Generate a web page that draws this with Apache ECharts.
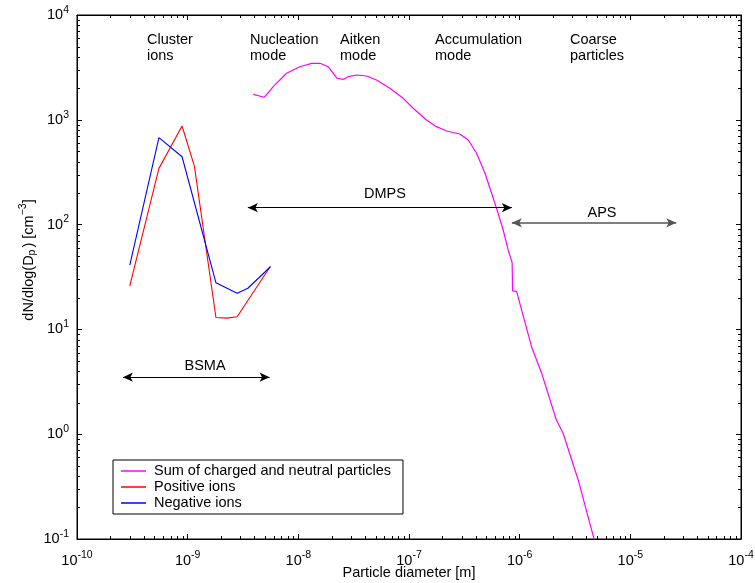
<!DOCTYPE html>
<html><head><meta charset="utf-8">
<script src="https://cdn.jsdelivr.net/npm/echarts@6/dist/echarts.min.js"></script>
<style>html,body{margin:0;padding:0;background:#fff}#c{width:755px;height:583px}</style>
</head><body><div id="c"></div>
<script>
// ---- data ----
const sumDiameter = [3.92e-9, 4.92e-9, 5.93e-9, 7.83e-9, 1.03e-8, 1.32e-8, 1.57e-8, 1.86e-8, 2.07e-8, 2.24e-8,
  2.55e-8, 2.83e-8, 3.37e-8, 4.14e-8, 5.09e-8, 6.71e-8, 8.87e-8, 1.09e-7, 1.44e-7, 1.77e-7,
  2.19e-7, 2.88e-7, 3.43e-7, 4.08e-7, 4.86e-7, 5.58e-7, 6.18e-7, 7.10e-7, 7.87e-7, 8.55e-7,
  8.63e-7, 9.38e-7, 1.28e-6, 1.58e-6, 2.15e-6, 2.47e-6, 3.38e-6, 4.71e-6];
const sumConc = [1751, 1640, 2070, 2780, 3210, 3460, 3460, 3210, 2780, 2490,
  2435, 2580, 2675, 2617, 2397, 1998, 1603, 1288, 995, 860,
  782, 732, 641, 479, 309, 199, 143, 88.8, 57.3, 43.3,
  23.3, 23.1, 6.84, 3.81, 1.36, 1.02, 0.366, 0.0993];
const posDiameter = [3.0e-10, 5.5e-10, 8.9e-10, 1.15e-9, 1.8e-9, 2.25e-9, 2.8e-9, 5.6e-9];
const posConc = [26, 344, 873, 362, 13.0, 12.8, 13.2, 40];
const negDiameter = [3.0e-10, 5.5e-10, 8.9e-10, 1.8e-9, 2.8e-9, 3.5e-9, 5.6e-9];
const negConc = [41, 675, 444, 27.9, 22.1, 24.7, 39.6];
const seriesNames = ['Sum of charged and neutral particles', 'Positive ions', 'Negative ions'];
const modeLabels = [['Cluster', 'ions'], ['Nucleation', 'mode'], ['Aitken', 'mode'], ['Accumulation', 'mode'], ['Coarse', 'particles']];
const instrumentLabels = ['BSMA', 'DMPS', 'APS'];

const FONT = 'Liberation Sans, Arial, Helvetica, sans-serif';
const FS = 14.5;
const pairs = (xs, ys) => xs.map((x, i) => [x, ys[i]]);
const expFmt = v => '{b|10}{e|' + Math.round(Math.log10(v)) + '}';
const richLbl = {
  b: { fontSize: FS, fontFamily: FONT, color: '#000' },
  e: { fontSize: 10.5, fontFamily: FONT, color: '#000', padding: [0, 0, 10, 0] }
};

const chart = echarts.init(document.getElementById('c'), null, { renderer: 'canvas' });

const xBase = {
  type: 'log', logBase: 10, min: 1e-10, max: 1e-4, splitNumber: 6,
  axisLine: { show: true, lineStyle: { color: '#000', width: 1 } },
  axisTick: { show: true, inside: true, length: 5, lineStyle: { color: '#000', width: 1 } },
  splitLine: { show: false }, minorTick: { show: false }
};
const yBase = {
  type: 'log', logBase: 10, min: 0.1, max: 1e4, splitNumber: 5,
  axisLine: { show: true, lineStyle: { color: '#000', width: 1 } },
  axisTick: { show: true, inside: true, length: 5, lineStyle: { color: '#000', width: 1 } },
  splitLine: { show: false }, minorTick: { show: false }
};

const option = {
  animation: false,
  backgroundColor: '#fff',
  grid: { left: 77, right: 14, top: 15, bottom: 44, containLabel: false, outerBoundsMode: 'none',
    show: true, borderColor: '#000', borderWidth: 1, backgroundColor: 'transparent' },
  xAxis: [
    Object.assign({}, xBase, {
      position: 'bottom',
      name: 'Particle diameter [m]', nameLocation: 'middle', nameGap: 26, nameMoveOverlap: false,
      nameTextStyle: { fontSize: FS, fontFamily: FONT, color: '#000' },
      axisLabel: { show: true, margin: 11, formatter: expFmt, rich: richLbl, showMinLabel: true, showMaxLabel: true }
    }),
    Object.assign({}, xBase, { position: 'top', axisLabel: { show: false } })
  ],
  yAxis: [
    Object.assign({}, yBase, {
      position: 'left',
      name: '{t|dN/dlog(D}{s|p}{t|) [cm}{e|−3}{t|]}', nameLocation: 'middle', nameGap: 38, nameMoveOverlap: false,
      nameTextStyle: {
        fontSize: FS, fontFamily: FONT, color: '#000', padding: [0, 0, 0, 34],
        rich: {
          t: { fontSize: FS, fontFamily: FONT, color: '#000' },
          s: { fontSize: 10.5, fontFamily: FONT, color: '#000', padding: [8, 2, 0, 0] },
          e: { fontSize: 10.5, fontFamily: FONT, color: '#000', padding: [0, 0, 10, 0] }
        }
      },
      axisLabel: { show: true, margin: 8, formatter: expFmt, rich: richLbl, showMinLabel: true, showMaxLabel: true }
    }),
    Object.assign({}, yBase, { position: 'right', axisLabel: { show: false } })
  ],
  legend: {
    orient: 'vertical', left: 113, top: 460,
    padding: [3, 12, 3, 8], itemGap: 0, itemWidth: 25, itemHeight: 1.5, icon: 'rect',
    borderColor: '#000', borderWidth: 1, backgroundColor: '#fff',
    textStyle: { fontSize: FS, fontFamily: FONT, color: '#000', lineHeight: 16, padding: [0, 0, 0, 3] },
    data: seriesNames
  },
  series: [
    {
      name: seriesNames[0], type: 'line', data: pairs(sumDiameter, sumConc),
      xAxisIndex: 0, yAxisIndex: 0, symbol: 'none', showSymbol: false,
      lineStyle: { color: '#ff00ff', width: 1.2 }, itemStyle: { color: '#ff00ff' },
      clip: true, z: 3,
      markLine: {
        silent: true, symbol: ['arrow', 'arrow'], symbolSize: [7, 10],
        label: { show: false },
        lineStyle: { color: '#000', width: 1.2, type: 'solid' },
        data: [
          [{ coord: [2.6e-10, 3.5] }, { coord: [5.5e-9, 3.5] }],
          [{ coord: [3.5e-9, 145] }, { coord: [8.5e-7, 145] }],
          [{ coord: [8.5e-7, 104], lineStyle: { color: '#555', width: 1.5 } }, { coord: [2.6e-5, 104], lineStyle: { color: '#555', width: 1.5 } }]
        ]
      }
    },
    {
      name: seriesNames[1], type: 'line', data: pairs(posDiameter, posConc),
      symbol: 'none', showSymbol: false,
      lineStyle: { color: '#ff0000', width: 1.1 }, itemStyle: { color: '#ff0000' }, z: 4
    },
    {
      name: seriesNames[2], type: 'line', data: pairs(negDiameter, negConc),
      symbol: 'none', showSymbol: false,
      lineStyle: { color: '#0000ff', width: 1.1 }, itemStyle: { color: '#0000ff' }, z: 5
    }
  ]
};
chart.setOption(option);

// ---- minor ticks (log 2..9) and text annotations derived from the axis scales ----
function px(axis, v) { return chart.convertToPixel(axis, v); }
const g = [];
const xL = px({ xAxisIndex: 0 }, 1e-10), xR = px({ xAxisIndex: 0 }, 1e-4);
const yB = px({ yAxisIndex: 0 }, 0.1), yT = px({ yAxisIndex: 0 }, 1e4);
const tickStyle = { stroke: '#000', lineWidth: 1 };
for (let d = -10; d < -4; d++) {
  for (let k = 2; k <= 9; k++) {
    const x = Math.round(px({ xAxisIndex: 0 }, k * Math.pow(10, d))) + 0.5;
    g.push({ type: 'line', shape: { x1: x, y1: yB, x2: x, y2: yB - 3 }, style: tickStyle, silent: true });
    g.push({ type: 'line', shape: { x1: x, y1: yT, x2: x, y2: yT + 3 }, style: tickStyle, silent: true });
  }
}
for (let d = -1; d < 4; d++) {
  for (let k = 2; k <= 9; k++) {
    const y = Math.round(px({ yAxisIndex: 0 }, k * Math.pow(10, d))) + 0.5;
    g.push({ type: 'line', shape: { x1: xL, y1: y, x2: xL + 3, y2: y }, style: tickStyle, silent: true });
    g.push({ type: 'line', shape: { x1: xR, y1: y, x2: xR - 3, y2: y }, style: tickStyle, silent: true });
  }
}
const modeX = [147, 250, 340, 435, 570];
modeLabels.forEach((lines, i) => {
  g.push({ type: 'text', left: modeX[i], top: 32, silent: true,
    style: { text: lines.join('\n'), font: FS + 'px ' + FONT, fill: '#000', lineHeight: 16 } });
});
const instPos = [[205, 358], [385, 186], [602, 205]];
instrumentLabels.forEach((t, i) => {
  g.push({ type: 'text', x: instPos[i][0], y: instPos[i][1], silent: true,
    style: { text: t, font: FS + 'px ' + FONT, fill: '#000', align: 'center', verticalAlign: 'top' } });
});
chart.setOption({ graphic: g });
</script>
</body></html>
